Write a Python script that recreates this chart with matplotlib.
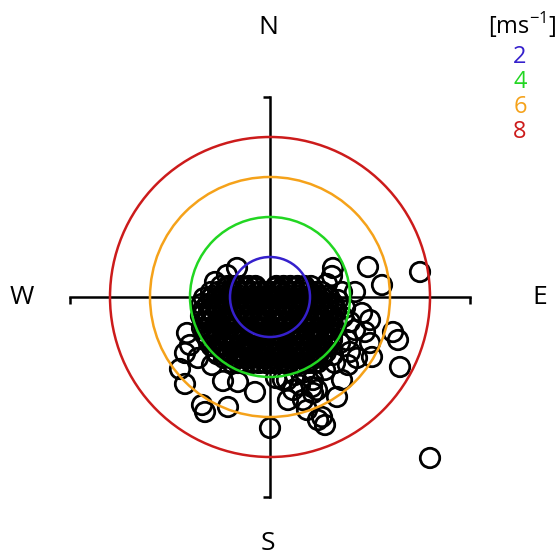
import matplotlib.pyplot as plt
from matplotlib.patches import Circle
import numpy as np

plt.rcParams['font.family'] = 'Open Sans'
plt.rcParams['mathtext.fontset'] = 'custom'
plt.rcParams['mathtext.rm'] = 'Open Sans'

# reference wind speeds drawn as rings [m/s]
speeds = [2, 4, 6, 8]
speed_colors = ['#3520cc', '#22d622', '#f5a21a', '#cc1b1b']

# dense core of the cloud, stored row by row: (v, [u, u, ...])
core_rows = [
    (0.45, [-2.14, -1.7, -1.22, -0.74, 0.26, 0.7, 1.22, 1.66]),
    (0.05, [-2.86, -2.42, -1.9, -1.46, -0.94, -0.5, 0.02, 0.46, 0.98, 1.42, 1.94, 2.38, 2.86]),
    (-0.38, [-3.1, -2.66, -2.14, -1.7, -1.22, -0.7, -0.26, 0.22, 0.74, 1.18, 1.7, 2.14,
             2.66, 3.1]),
    (-0.8, [-3.3, -2.9, -2.38, -1.94, -1.42, -0.98, -0.46, 0.02, 0.5, 0.94, 1.46, 1.9,
            2.42, 2.86, 3.24]),
    (-1.2, [-3.14, -2.62, -2.18, -1.66, -1.22, -0.7, -0.26, 0.26, 0.7, 1.22, 1.66, 2.18,
            2.62, 3.12]),
    (-1.62, [-3.28, -2.86, -2.42, -1.9, -1.46, -0.94, -0.5, 0.02, 0.46, 0.98, 1.42, 1.94,
             2.38, 2.9, 3.2]),
    (-2.04, [-3.1, -2.66, -2.14, -1.7, -1.18, -0.74, -0.22, 0.26, 0.7, 1.22, 1.66, 2.18,
             2.62, 3.1]),
    (-2.45, [-2.9, -2.38, -1.94, -1.42, -0.98, -0.46, 0.02, 0.5, 0.94, 1.46, 1.9, 2.42,
             2.86]),
    (-2.87, [-2.62, -2.18, -1.66, -1.22, -0.7, -0.26, 0.26, 0.7, 1.22, 1.66, 2.18, 2.62]),
    (-3.28, [-1.9, -1.46, -0.94, -0.5, 0.02, 0.46, 0.98, 1.42, 1.94, 2.38]),
]

# the same core again at a finer spacing, where calm hours pile up
core_rows_fine = [
    (0.55, [-2.45, -2.1, -1.72, -1.38, -1.05, -0.72, 0.32, 0.68, 1.02, 1.38, 1.72, 2.05]),
    (0.25, [-2.95, -2.6, -2.25, -1.9, -1.55, -1.2, -0.85, -0.5, -0.18, 0.18, 0.52, 0.88,
            1.22, 1.58, 1.92, 2.28, 2.6]),
    (-0.05, [-3.3, -2.95, -2.62, -2.28, -1.92, -1.58, -1.22, -0.88, -0.52, -0.18, 0.18, 0.52,
             0.88, 1.22, 1.58, 1.92, 2.28, 2.62, 2.98]),
    (-0.35, [-3.42, -3.1, -2.75, -2.4, -2.05, -1.7, -1.35, -1.0, -0.65, -0.3, 0.05, 0.4,
             0.75, 1.1, 1.45, 1.8, 2.15, 2.5, 2.85, 3.18]),
    (-0.65, [-3.35, -3.0, -2.65, -2.3, -1.95, -1.6, -1.25, -0.9, -0.55, -0.2, 0.15, 0.5,
             0.85, 1.2, 1.55, 1.9, 2.25, 2.6, 2.95, 3.3]),
    (-0.95, [-3.45, -3.12, -2.78, -2.42, -2.08, -1.72, -1.38, -1.02, -0.68, -0.32, 0.02, 0.38,
             0.72, 1.08, 1.42, 1.78, 2.12, 2.48, 2.82, 3.15]),
    (-1.25, [-3.32, -2.98, -2.62, -2.28, -1.92, -1.58, -1.22, -0.88, -0.52, -0.18, 0.18, 0.52,
             0.88, 1.22, 1.58, 1.92, 2.28, 2.62, 2.98, 3.32]),
    (-1.55, [-3.4, -3.08, -2.75, -2.4, -2.05, -1.7, -1.35, -1.0, -0.65, -0.3, 0.05, 0.4,
             0.75, 1.1, 1.45, 1.8, 2.15, 2.5, 2.85, 3.2]),
    (-1.85, [-3.28, -2.95, -2.6, -2.25, -1.9, -1.55, -1.2, -0.85, -0.5, -0.15, 0.2, 0.55,
             0.9, 1.25, 1.6, 1.95, 2.3, 2.65, 3.05]),
    (-2.15, [-3.1, -2.78, -2.42, -2.08, -1.72, -1.38, -1.02, -0.68, -0.32, 0.02, 0.38, 0.72,
             1.08, 1.42, 1.78, 2.12, 2.48, 2.82, 3.1]),
    (-2.45, [-2.92, -2.6, -2.25, -1.9, -1.55, -1.2, -0.85, -0.5, -0.15, 0.2, 0.55, 0.9,
             1.25, 1.6, 1.95, 2.3, 2.65, 2.95]),
    (-2.75, [-2.7, -2.38, -2.05, -1.7, -1.35, -1.0, -0.65, -0.3, 0.05, 0.4, 0.75, 1.1,
             1.45, 1.8, 2.15, 2.5, 2.8]),
    (-3.05, [-2.3, -1.95, -1.6, -1.25, -0.9, -0.55, -0.2, 0.15, 0.5, 0.85, 1.2, 1.55,
             1.9, 2.25, 2.6]),
    (-3.3, [-1.6, -1.25, -0.9, -0.55, -0.2, 0.15, 0.5, 0.85, 1.2, 1.55, 1.9, 2.2]),
]

# scattered points around the core
outer_u = [7.5, 4.9, 5.6, 3.15, 3.1, 2.85, 3.6, 4.25, 3.65, 4.6, 5.0, 4.75, 5.0, 5.1,
           6.15, 6.4, 6.5, 3.85, 4.0, 4.35, 3.9, 3.5, 3.15, 3.6, 3.35, 2.15, 2.35, 1.65,
           0.9, 0.85, 1.85, 2.6, 2.75, 1.5, 1.15, 0.0, 8.0, -0.75, -1.6, -2.35, -2.1,
           -3.4, -3.25, -4.25, -4.5, -2.9, -3.6, -4.25, -4.15, -4.0, -1.65, -2.15, -2.75,
           3.25, 2.15, 0.65, 2.1, 2.4, 0.3, 2.75, 1.75, 1.25, 3.4, 3.75, 4.0, 4.25]
outer_v = [1.25, 1.5, 0.6, 1.45, 1.05, 0.65, 0.25, 0.25, -1.0, -0.8, -1.15, -1.75, -2.3,
           -3.0, -1.75, -2.15, -3.5, -2.15, -2.75, -3.05, -3.4, -2.3, -2.9, -4.15, -5.0,
           -4.15, -4.65, -5.15, -5.15, -4.15, -5.65, -6.0, -6.4, -4.4, -4.65, -6.55, -8.05,
           -4.75, -4.25, -4.2, -5.5, -5.4, -5.75, -4.35, -3.6, -3.4, -3.05, -2.8, -1.8,
           -2.4, 1.45, 1.1, 0.75, -3.3, -4.8, -4.15, -4.5, -6.15, -4.05, -3.65, -3.75,
           -3.9, -0.15, -0.55, -1.25, -1.65]

rows = core_rows + core_rows_fine
core_u = [u for v, row in rows for u in row]
core_v = [v for v, row in rows for u in row]
wind_u = np.array(core_u + outer_u)
wind_v = np.array(core_v + outer_v)

fig = plt.figure(figsize=(5.59, 5.55), dpi=100)
ax = fig.add_axes([0, 0, 1, 1])
ax.set_xlim(-13.5, 14.45)
ax.set_ylim(-12.9, 14.85)

# cross-shaped axes through the origin
for side in ['top', 'right']:
    ax.spines[side].set_visible(False)
for side in ['left', 'bottom']:
    ax.spines[side].set_position(('data', 0))
    ax.spines[side].set_bounds(-10, 10)
    ax.spines[side].set_linewidth(1.8)
ax.set_xticks([-10, 10])
ax.set_yticks([-10, 10])
ax.tick_params(direction='out', length=5, width=1.8, labelbottom=False, labelleft=False)

ax.scatter(wind_u, wind_v, s=14 ** 2, facecolors='none', edgecolors='black',
           linewidths=2.0, zorder=3)

for r, c in zip(speeds, speed_colors):
    ax.add_patch(Circle((0, 0), r, fill=False, edgecolor=c, linewidth=1.8, zorder=4))

# compass labels
ax.text(-0.1, 13.45, 'N', fontsize=19, ha='center', va='center')
ax.text(-0.1, -12.3, 'S', fontsize=19, ha='center', va='center')
ax.text(-12.4, 0, 'W', fontsize=19, ha='center', va='center')
ax.text(13.5, 0, 'E', fontsize=19, ha='center', va='center')

# speed key
ax.text(12.6, 13.6, r'[ms$^{\mathregular{-1}}$]', fontsize=17, ha='center', va='center')
for i, (r, c) in enumerate(zip(speeds, speed_colors)):
    ax.text(12.5, 12.0 - 1.25 * i, str(r), fontsize=17, color=c, ha='center', va='center')

fig.savefig('out.png', dpi=100)
